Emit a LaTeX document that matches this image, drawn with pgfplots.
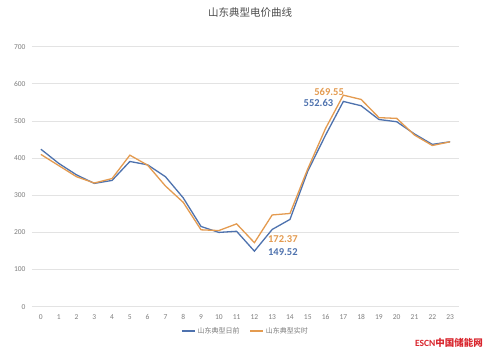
\documentclass[border=0pt]{standalone}
\usepackage{pgfplots}
\pgfplotsset{compat=1.18}
\usepackage{fontspec}
\setmainfont{Carlito}
\newfontfamily\cjk{Noto Sans CJK SC}
\definecolor{sblue}{HTML}{4E72AE}
\definecolor{sorange}{HTML}{E49B50}
\definecolor{tgray}{HTML}{7F7F7F}
\definecolor{ggray}{HTML}{E3E3E3}
\definecolor{escred}{HTML}{D9262E}
\pgfplotstableread{
x da rt
0 424 410
1 386 380
2 355 350
3 332 333
4 340 345
5 391 408
6 382 381
7 350 325
8 293 281
9 216 207
10 200 205
11 203 223
12 149.52 172.37
13 208 247
14 235 251
15 365 371
16 462 480
17 552.63 569.55
18 541 558
19 504 509
20 498 507
21 465 462
22 437 434
23 444 444
}\datatable
\begin{document}
\begin{tikzpicture}[x=1pt,y=1pt]
\path[fill=white] (0,0) rectangle (500,355);
\node[font=\cjk\fontsize{10.5}{12}\selectfont, text=black!70] at (250,342) {山东典型电价曲线};
\begin{axis}[
  at={(32pt,48.3pt)}, anchor=south west,
  scale only axis, width=427pt, height=260pt,
  xmin=-0.5, xmax=23.5, ymin=0, ymax=700,
  axis line style={draw=none},
  xtick={0,...,23}, ytick={0,100,...,700},
  ymajorgrids, major grid style={ggray, line width=0.7pt},
  major tick length=0pt,
  /pgf/number format/assume math mode=true,
  tick label style={font=\fontsize{7.5}{9}\selectfont, text=tgray},
  xticklabel style={yshift=-4pt},
  yticklabel style={xshift=-3pt},
  legend style={at={(0.5,-0.093)}, anchor=center, draw=none, fill=none,
    legend columns=2, font=\cjk\fontsize{7}{8}\selectfont, text=tgray,
    /tikz/every even column/.append style={column sep=8pt}},
  legend image code/.code={\draw[#1, line width=1.3pt] (0pt,0pt) -- (13pt,0pt);},
]
\addplot[sblue, line width=1.3pt] table[x=x, y=da] {\datatable};
\addlegendentry{山东典型日前}
\addplot[sorange, line width=1.3pt] table[x=x, y=rt] {\datatable};
\addlegendentry{山东典型实时}
\node[font=\bfseries\fontsize{10.5}{12}\selectfont, text=sorange] at (axis cs:16.2,577) {569.55};
\node[font=\bfseries\fontsize{10.5}{12}\selectfont, text=sblue] at (axis cs:15.6,549) {552.63};
\node[font=\bfseries\fontsize{10.5}{12}\selectfont, text=sorange] at (axis cs:13.6,182) {172.37};
\node[font=\bfseries\fontsize{10.5}{12}\selectfont, text=sblue] at (axis cs:13.6,148) {149.52};
\end{axis}
\node[font=\bfseries\fontsize{9.5}{12}\selectfont, text=escred, inner sep=0pt] at (449,12.5) {ESCN{\cjk 中国储能网}};
\end{tikzpicture}
\end{document}
